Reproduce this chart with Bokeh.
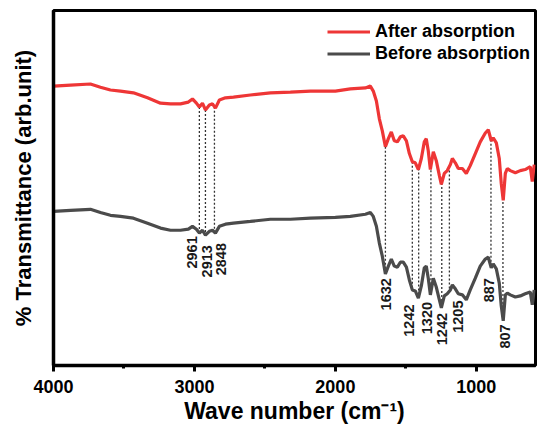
import numpy as np
from bokeh.plotting import figure
from bokeh.models import Range1d, FixedTicker, Legend, LegendItem
from bokeh.core.properties import value
from bokeh.embed import file_html
from bokeh.resources import INLINE

# ---- data ----
wavenumber = [4000, 3879, 3738, 3667, 3596, 3525, 3433, 3333, 3241, 3170,
              3099, 3043, 3014, 2986, 2965, 2943, 2922, 2894, 2872, 2851,
              2823, 2780, 2723, 2603, 2461, 2319, 2177, 2000, 1894, 1787,
              1752, 1731, 1709, 1688, 1667, 1645, 1624, 1603, 1582, 1560,
              1539, 1518, 1496, 1475, 1454, 1433, 1411, 1390, 1369, 1355,
              1341, 1326, 1305, 1284, 1262, 1248, 1227, 1206, 1184, 1170,
              1149, 1128, 1099, 1071, 1043, 1007, 972, 936, 915, 894,
              880, 858, 837, 823, 809, 794, 780, 759, 723, 688,
              653, 617, 603, 589]

after_absorption = [78.7, 79.0, 79.3, 78.4, 77.6, 77.3, 76.8, 75.4, 73.9, 73.7,
                    73.7, 74.2, 75.1, 73.9, 72.8, 73.9, 72.0, 73.4, 73.7, 72.5,
                    74.8, 75.4, 75.6, 76.2, 76.8, 77.0, 77.3, 77.3, 77.9, 78.2,
                    78.7, 77.3, 74.5, 69.5, 66.1, 61.6, 63.9, 65.8, 63.3, 63.0,
                    64.4, 64.7, 63.3, 59.7, 57.4, 57.1, 55.2, 58.3, 63.0, 63.9,
                    60.5, 55.2, 60.2, 57.7, 53.5, 51.0, 54.1, 54.9, 56.6, 58.3,
                    57.1, 55.5, 55.5, 54.1, 56.3, 59.7, 63.0, 65.5, 66.4, 63.3,
                    64.1, 62.7, 58.3, 51.3, 46.5, 54.1, 55.5, 54.9, 54.3, 54.9,
                    55.2, 56.0, 51.8, 56.6]

before_absorption = [43.4, 43.7, 44.0, 43.1, 42.3, 42.0, 41.5, 40.1, 38.7, 38.1,
                     38.1, 38.4, 39.2, 38.4, 37.3, 38.1, 36.7, 37.8, 38.1, 37.3,
                     39.2, 39.8, 40.1, 40.6, 41.2, 41.2, 41.5, 41.7, 42.0, 42.6,
                     43.1, 42.0, 39.2, 34.5, 30.8, 25.8, 28.0, 30.0, 28.0, 27.7,
                     29.1, 29.1, 27.7, 24.1, 21.3, 21.0, 19.0, 22.4, 27.5, 28.0,
                     24.6, 19.9, 24.6, 22.1, 18.5, 16.2, 19.6, 20.2, 21.3, 22.7,
                     21.6, 20.2, 19.9, 18.5, 21.3, 24.6, 28.0, 30.0, 30.5, 27.5,
                     28.6, 27.2, 23.2, 16.8, 12.6, 19.9, 20.4, 19.9, 19.3, 19.6,
                     20.2, 20.7, 17.1, 21.3]

# positions of the dotted guide lines (cm-1)
guide_positions = [2965, 2922, 2858, 1645, 1454, 1409, 1322, 1245, 1191, 896, 811]

# peak annotations: text, position, top of text
peak_labels = ["2961", "2913", "2848", "1632", "1242", "1320", "1242", "1205", "887", "807"]
peak_label_x = [3018, 2910, 2811, 1643, 1477, 1353, 1243, 1128, 908, 798]
peak_label_top = [36.4, 33.9, 34.5, 24.6, 17.2, 17.9, 14.8, 18.3, 24.6, 11.6]

x_ticks = [4000, 3000, 2000, 1000]
x_minor = [3500, 2500, 1500, 500]

FONT = "Liberation Sans"
RED = "#ee3636"
GRAY = "#4b4b4b"

FRAME_H = 355
p = figure(frame_width=482, frame_height=FRAME_H,
           min_border_left=53, min_border_right=2, min_border_top=10, min_border_bottom=64,
           x_range=Range1d(4000, 580), y_range=Range1d(0, 100),
           output_backend="svg", toolbar_location=None,
           background_fill_color="white", border_fill_color="white")
p.xgrid.visible = False
p.ygrid.visible = False
p.outline_line_color = "black"
p.outline_line_width = 3

# dotted guides from the upper trace down to the lower trace
wn_inc = np.array(wavenumber[::-1], dtype=float)
g = np.array(guide_positions, dtype=float)
g_top = np.interp(g, wn_inc, np.array(after_absorption[::-1]))
g_bot = np.interp(g, wn_inc, np.array(before_absorption[::-1]))
p.segment(x0=g, y0=g_top, x1=g, y1=g_bot, line_color="#333333",
          line_width=1.3, line_dash="2 2")

r_after = p.line(wavenumber, after_absorption, line_color=RED, line_width=3.2)
r_before = p.line(wavenumber, before_absorption, line_color=GRAY, line_width=3.2)

p.text(x=peak_label_x, y=peak_label_top, text=peak_labels, angle=np.pi / 2,
       text_align="right", text_baseline="middle",
       text_font=value(FONT), text_font_style="bold", text_font_size="14.5px",
       text_color="#1a1a1a")

# x axis
xa = p.xaxis[0]
xa.ticker = FixedTicker(ticks=x_ticks, minor_ticks=x_minor)
xa.axis_line_width = 3.5
xa.axis_line_color = "black"
xa.major_tick_line_width = 3
xa.major_tick_out = 6
xa.major_tick_in = 0
xa.minor_tick_line_width = 3
xa.minor_tick_out = 3
xa.minor_tick_in = 0
xa.major_label_standoff = 8
xa.major_label_text_font = FONT
xa.major_label_text_font_style = "bold"
xa.major_label_text_font_size = "18px"
xa.major_label_text_color = "black"
xa.axis_label = "Wave number (cm\u207b\u00b9)"
xa.axis_label_text_font = FONT
xa.axis_label_text_font_style = "bold"
xa.axis_label_text_font_size = "23px"
xa.axis_label_text_color = "black"
xa.axis_label_standoff = 2

# y axis
ya = p.yaxis[0]
ya.ticker = FixedTicker(ticks=[])
ya.axis_line_width = 3.5
ya.axis_line_color = "black"
ya.major_tick_out = 0
ya.major_tick_in = 0
ya.minor_tick_out = 0
ya.minor_tick_in = 0
ya.major_label_standoff = 0
ya.axis_label = "% Transmittance (arb.unit)"
ya.axis_label_text_font = FONT
ya.axis_label_text_font_style = "bold"
ya.axis_label_text_font_size = "22px"
ya.axis_label_text_color = "black"
ya.axis_label_standoff = 18

legend = Legend(items=[LegendItem(label="After absorption", renderers=[r_after]),
                       LegendItem(label="Before absorption", renderers=[r_before])],
                location=(274, FRAME_H - 54), margin=0, padding=0, spacing=1,
                glyph_width=43, glyph_height=21, label_height=21, label_standoff=5,
                label_text_font=FONT, label_text_font_style="bold",
                label_text_font_size="18px", label_text_color="black",
                border_line_alpha=0, background_fill_alpha=0)
p.add_layout(legend)

open("out.html", "w").write(file_html(p, INLINE))
